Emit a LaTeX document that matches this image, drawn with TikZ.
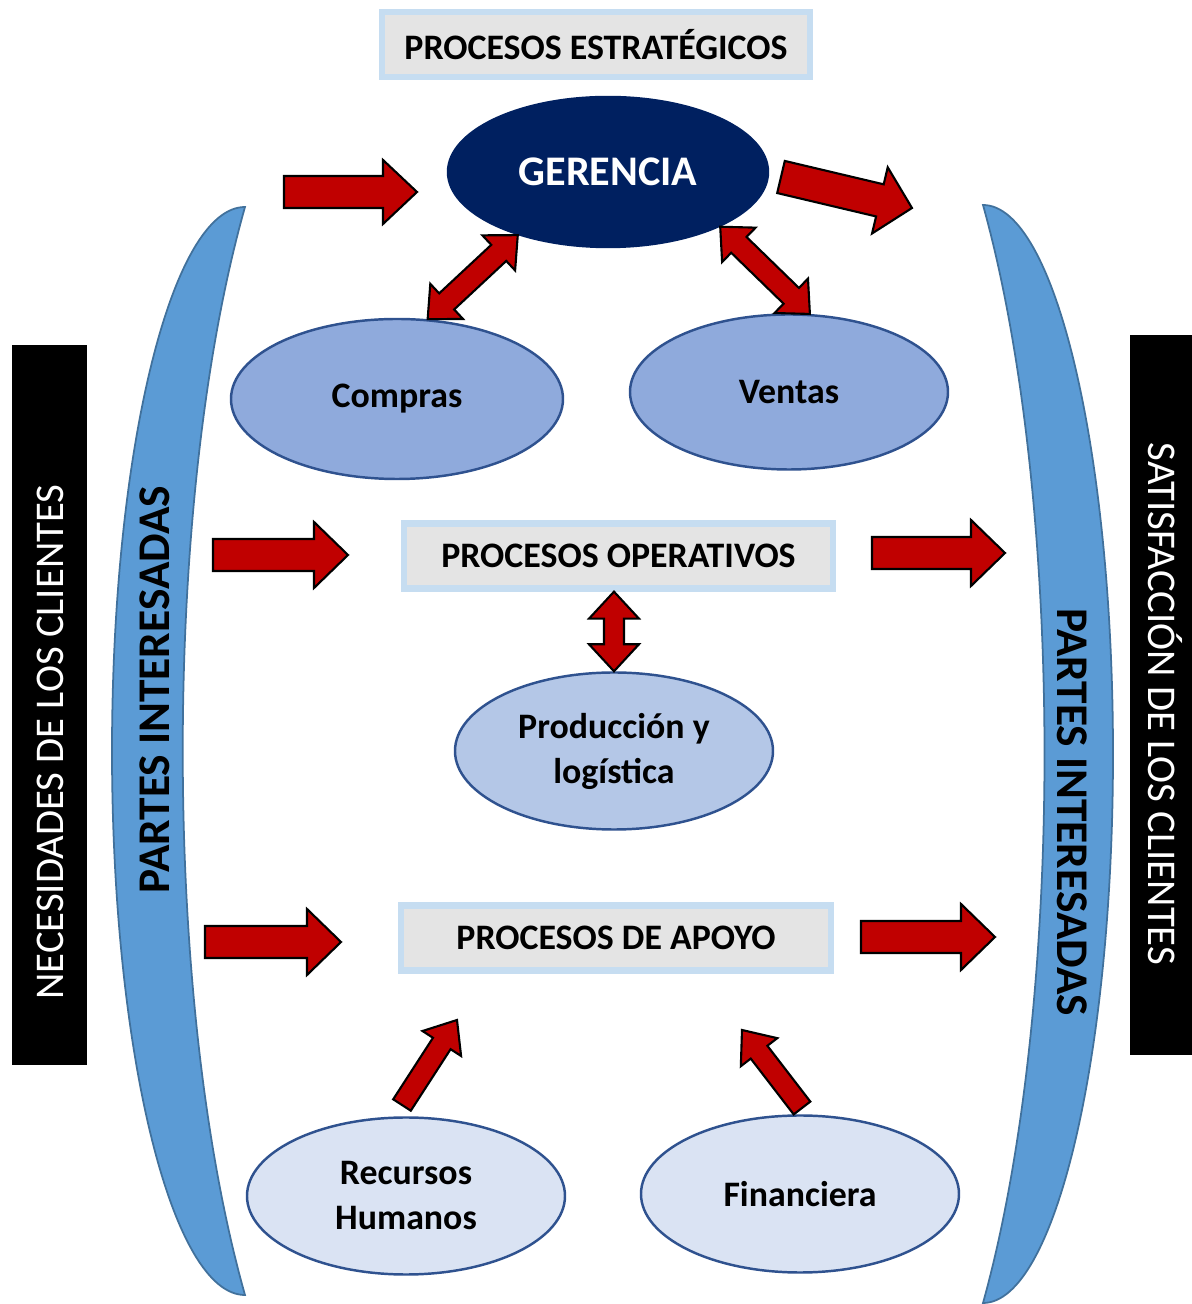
\documentclass[tikz,border=0pt]{standalone}
\usepackage{fontspec}
\setmainfont{Carlito}
\usetikzlibrary{calc,shapes.geometric}

\definecolor{gernavy}{HTML}{002060}
\definecolor{midblue}{HTML}{8FAADC}
\definecolor{lightblue}{HTML}{B4C7E7}
\definecolor{paleblue}{HTML}{DAE3F3}
\definecolor{ellline}{HTML}{2F528F}
\definecolor{bandblue}{HTML}{5B9BD5}
\definecolor{bandline}{HTML}{41719C}
\definecolor{boxgray}{HTML}{E4E4E4}
\definecolor{boxglow}{HTML}{C6DDF1}
\definecolor{arrowred}{HTML}{C00000}

\tikzset{
  procbox/.style={rectangle, draw=boxglow, line width=1.8pt, fill=boxgray,
    minimum width=4.28cm, minimum height=0.65cm, inner sep=0pt,
    font=\fontsize{10.2}{12}\selectfont\bfseries},
  area/.style={ellipse, draw=ellline, line width=0.7pt, inner sep=0pt,
    minimum width=3.18cm, minimum height=1.57cm, align=center,
    font=\fontsize{10.2}{12.8}\selectfont\bfseries},
  band/.style={fill=bandblue, draw=bandline, line width=0.5pt},
  bandtext/.style={font=\fontsize{12.9}{14}\selectfont\bfseries},
  bar/.style={fill=black, inner sep=0pt, minimum width=0.75cm, minimum height=7.2cm},
  bartext/.style={text=white, font=\fontsize{11.6}{13}\selectfont},
  redarrow/.style={fill=arrowred, draw=black, line width=0.6pt, line join=miter},
}

% block arrow: from, to, half shaft, half head, head length (cm)
\newcommand{\blockarrow}[5]{%
  \pgfmathsetmacro\arnd{sqrt((#5)^2+(#3)^2)}%
  \pgfmathsetmacro\arna{atan2(#3,#5)}%
  \pgfmathsetmacro\arbd{sqrt((#5)^2+(#4)^2)}%
  \pgfmathsetmacro\arba{atan2(#4,#5)}%
  \draw[redarrow] ($(#1)!#3cm!90:(#2)$) -- ($(#2)!\arnd cm!-\arna:(#1)$)
    -- ($(#2)!\arbd cm!-\arba:(#1)$) -- (#2) -- ($(#2)!\arbd cm!\arba:(#1)$)
    -- ($(#2)!\arnd cm!\arna:(#1)$) -- ($(#1)!#3cm!-90:(#2)$) -- cycle;}

% same with a head at both ends
\newcommand{\dblarrow}[5]{%
  \pgfmathsetmacro\arnd{sqrt((#5)^2+(#3)^2)}%
  \pgfmathsetmacro\arna{atan2(#3,#5)}%
  \pgfmathsetmacro\arbd{sqrt((#5)^2+(#4)^2)}%
  \pgfmathsetmacro\arba{atan2(#4,#5)}%
  \draw[redarrow] (#1) -- ($(#1)!\arbd cm!\arba:(#2)$) -- ($(#1)!\arnd cm!\arna:(#2)$)
    -- ($(#2)!\arnd cm!-\arna:(#1)$) -- ($(#2)!\arbd cm!-\arba:(#1)$) -- (#2)
    -- ($(#2)!\arbd cm!\arba:(#1)$) -- ($(#2)!\arnd cm!\arna:(#1)$)
    -- ($(#1)!\arnd cm!-\arna:(#2)$) -- ($(#1)!\arbd cm!-\arba:(#2)$) -- cycle;}

\begin{document}
\begin{tikzpicture}[>=latex]
\useasboundingbox (0,0) rectangle (11.92,13.04);
\clip (0,0) rectangle (11.92,13.04);

% stakeholder bands
\draw[band] (2.45,10.97) arc[start angle=90, end angle=270, x radius=1.33, y radius=5.44]
  .. controls (1.62,3.02) and (1.62,8.04) .. cycle;
\draw[band] (9.83,10.99) arc[start angle=90, end angle=-90, x radius=1.30, y radius=5.49]
  .. controls (10.65,2.95) and (10.65,8.05) .. cycle;

\path
(0.495,5.99) node[bar] (lbar) {}
(11.70,6.09) node[bar, minimum width=0.8cm] (rbar) {}
(0.50,5.62)  node[bartext, rotate=90]  (nec) {NECESIDADES DE LOS CLIENTES}
(11.65,6.00) node[bartext, rotate=-90] (sat) {SATISFACCIÓN DE LOS CLIENTES}
(1.55,6.14)  node[bandtext, rotate=90]  (pil) {PARTES INTERESADAS}
(10.72,4.92) node[bandtext, rotate=-90] (pir) {PARTES INTERESADAS}

(5.96,12.595) node[procbox] (est) {PROCESOS ESTRATÉGICOS}
(6.185,7.48)  node[procbox, minimum width=4.29cm] (ope) {PROCESOS OPERATIVOS}
(6.16,3.66)   node[procbox, minimum width=4.30cm] (apo) {PROCESOS DE APOYO}

(6.08,11.32) node[area, fill=gernavy, draw=gernavy, text=white, minimum width=3.2cm,
  minimum height=1.5cm, font=\fontsize{12}{14}\selectfont\bfseries] (ger) {GERENCIA}
(3.97,9.05) node[area, fill=midblue, minimum width=3.32cm, minimum height=1.6cm] (com) {Compras}
(7.89,9.12) node[area, fill=midblue, minimum height=1.55cm] (ven) {Ventas}
(6.14,5.53) node[area, fill=lightblue] (pro) {Producción y\\logística}
(4.06,1.08) node[area, fill=paleblue] (rh)  {Recursos\\Humanos}
(8.00,1.10) node[area, fill=paleblue] (fin) {Financiera};

\coordinate (sin0) at (2.84,11.12);  \coordinate (sin1) at (4.17,11.12);
\coordinate (sout0) at (7.81,11.27); \coordinate (sout1) at (9.12,10.96);
\coordinate (oin0) at (2.13,7.49);   \coordinate (oin1) at (3.48,7.49);
\coordinate (oout0) at (8.72,7.51);  \coordinate (oout1) at (10.05,7.51);
\coordinate (ain0) at (2.05,3.62);   \coordinate (ain1) at (3.41,3.62);
\coordinate (aout0) at (8.61,3.67);  \coordinate (aout1) at (9.95,3.67);
\coordinate (rhtail) at (4.02,1.99); \coordinate (rhtip) at (4.57,2.84);
\coordinate (fintail) at (8.02,1.96); \coordinate (fintip) at (7.42,2.74);
\coordinate (opebot) at (pro.north |- ope.south);

\blockarrow{sin0}{sin1}{0.16}{0.32}{0.34}
\blockarrow{sout0}{sout1}{0.165}{0.34}{0.33}
\blockarrow{oin0}{oin1}{0.16}{0.33}{0.34}
\blockarrow{oout0}{oout1}{0.16}{0.33}{0.34}
\blockarrow{ain0}{ain1}{0.16}{0.33}{0.34}
\blockarrow{aout0}{aout1}{0.16}{0.33}{0.34}
\blockarrow{rhtail}{rhtip}{0.105}{0.23}{0.28}
\blockarrow{fintail}{fintip}{0.105}{0.23}{0.28}

\dblarrow{com.69}{ger.215}{0.11}{0.24}{0.26}
\dblarrow{ger.-26}{ven.75}{0.11}{0.24}{0.26}
\dblarrow{opebot}{pro.north}{0.10}{0.25}{0.27}
\end{tikzpicture}
\end{document}
